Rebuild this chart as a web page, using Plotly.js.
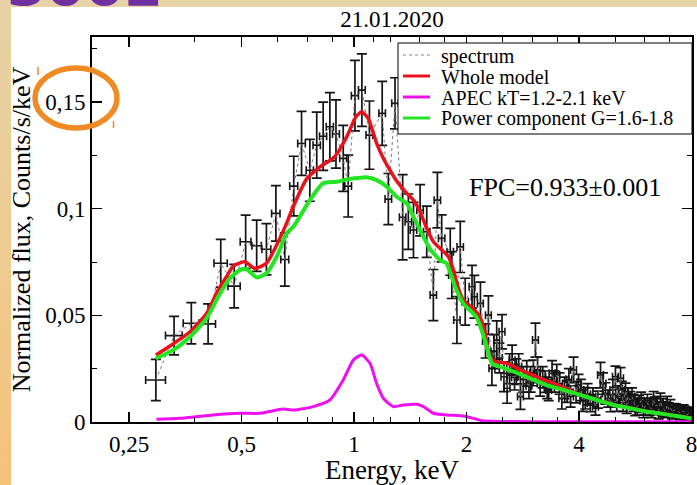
<!DOCTYPE html>
<html>
<head>
<meta charset="utf-8">
<script src="https://cdn.plot.ly/plotly-3.0.1.min.js"></script>
<style>
  html, body { margin: 0; padding: 0; }
  #slide {
    position: relative; width: 697px; height: 485px; overflow: hidden;
    background: linear-gradient(to bottom, #E6D3A6 0%, #EECB90 55%, #F7C17A 100%);
  }
  #panel { position: absolute; left: 11px; top: 7px; width: 686px; height: 478px; background: #ffffff; }
  #chart { position: absolute; left: 0; top: 0; width: 697px; height: 485px; }
  #heading {
    position: absolute; left: 7px; top: -47px; line-height: 1;
    font: bold 56px "DejaVu Sans", sans-serif; color: #7030A0; white-space: nowrap;
  }
</style>
</head>
<body>
<div id="slide">
  <div id="panel"></div>
  <div id="chart"></div>
  <div id="heading">3002</div>
</div>
<script>
// Observed spectrum: energy (keV), normalized flux, flux error, energy half-width
const specE = [
  0.295, 0.330, 0.367, 0.407, 0.440, 0.478, 0.513, 0.549, 0.583, 0.618,
  0.653, 0.690, 0.724, 0.762, 0.795, 0.827, 0.862, 0.895, 0.936, 0.965,
  1.006, 1.050, 1.100, 1.190, 1.236, 1.288, 1.350, 1.398, 1.443, 1.503,
  1.566, 1.631, 1.672, 1.717, 1.810, 1.828, 1.886, 1.925, 1.985,
  2.070, 2.100, 2.180, 2.250, 2.290, 2.340, 2.370, 2.410, 2.450, 2.490,
  2.520, 2.570, 2.610, 2.650, 2.690, 2.720, 2.760, 2.790, 2.840, 2.900,
  2.940, 2.970, 3.020, 3.060, 3.100, 3.150, 3.200, 3.250, 3.290, 3.320,
  3.390, 3.440, 3.490, 3.550, 3.600, 3.660, 3.720, 3.760, 3.800, 3.870,
  3.930, 3.990, 4.050, 4.100, 4.160, 4.220, 4.290, 4.360, 4.430, 4.500,
  4.570, 4.640, 4.710, 4.790, 4.860, 4.930, 5.010, 5.050, 5.100, 5.170,
  5.210, 5.250, 5.330, 5.370, 5.410, 5.490, 5.550, 5.600, 5.660, 5.730,
  5.800, 5.870, 5.950, 6.020, 6.100, 6.180, 6.260, 6.340, 6.400, 6.470,
  6.540, 6.610, 6.680, 6.750, 6.820, 6.890, 6.960, 7.030, 7.100, 7.180,
  7.280, 7.370, 7.460, 7.560, 7.620, 7.670, 7.730, 7.790, 7.850, 7.900, 7.950];
const specF = [
  0.0197, 0.0405, 0.0463, 0.0460, 0.0744, 0.0637, 0.0845, 0.0826, 0.0810, 0.0978,
  0.0762, 0.1106, 0.1306, 0.1180, 0.1298, 0.1340, 0.1384, 0.1350, 0.1236, 0.1106,
  0.1530, 0.1556, 0.1345, 0.1447, 0.1045, 0.1494, 0.0960, 0.0939, 0.0900, 0.0993,
  0.0892, 0.0595, 0.1040, 0.0861, 0.0798, 0.0689, 0.0478, 0.0821, 0.0564,
  0.0634, 0.0587, 0.0556, 0.0380, 0.0501, 0.0252, 0.0330, 0.0384, 0.0300, 0.0423,
  0.0212, 0.0158, 0.0250, 0.0290, 0.0210, 0.0236, 0.0260, 0.0119, 0.0200, 0.0228,
  0.0170, 0.0200, 0.0230, 0.0384, 0.0244, 0.0181, 0.0210, 0.0189, 0.0160, 0.0150,
  0.0228, 0.0190, 0.0220, 0.0180, 0.0111, 0.0160, 0.0142, 0.0200, 0.0120, 0.0244,
  0.0140, 0.0173, 0.0150, 0.0100, 0.0111, 0.0130, 0.0088, 0.0120, 0.0072, 0.0105,
  0.0220, 0.0180, 0.0134, 0.0110, 0.0088, 0.0150, 0.0212, 0.0090, 0.0120, 0.0205,
  0.0150, 0.0090, 0.0142, 0.0080, 0.0120, 0.0103, 0.0120, 0.0090, 0.0070, 0.0072,
  0.0085, 0.0100, 0.0060, 0.0072, 0.0090, 0.0070, 0.0060, 0.0103, 0.0075, 0.0080,
  0.0055, 0.0095, 0.0070, 0.0060, 0.0050, 0.0080, 0.0060, 0.0070, 0.0045, 0.0056,
  0.0055, 0.0050, 0.0040, 0.0048, 0.0050, 0.0045, 0.0038, 0.0033, 0.0040, 0.0030, 0.0028];
const specErrF = [
  0.0097, 0.0090, 0.0097, 0.0094, 0.0112, 0.0102, 0.0125, 0.0120, 0.0120, 0.0130,
  0.0125, 0.0140, 0.0150, 0.0145, 0.0155, 0.0160, 0.0160, 0.0160, 0.0155, 0.0145,
  0.0165, 0.0170, 0.0160, 0.0150, 0.0120, 0.0120, 0.0200, 0.0130, 0.0130, 0.0120,
  0.0120, 0.0120, 0.0130, 0.0110, 0.0110, 0.0110, 0.0110, 0.0120, 0.0110,
  0.0100, 0.0100, 0.0100, 0.0080, 0.0090, 0.0080, 0.0080, 0.0090, 0.0070, 0.0080,
  0.0070, 0.0070, 0.0070, 0.0070, 0.0060, 0.0060, 0.0060, 0.0060, 0.0060, 0.0060,
  0.0060, 0.0060, 0.0060, 0.0080, 0.0060, 0.0060, 0.0050, 0.0050, 0.0050, 0.0050,
  0.0060, 0.0050, 0.0050, 0.0050, 0.0050, 0.0050, 0.0050, 0.0050, 0.0050, 0.0060,
  0.0050, 0.0050, 0.0050, 0.0050, 0.0050, 0.0050, 0.0040, 0.0040, 0.0040, 0.0040,
  0.0060, 0.0050, 0.0050, 0.0040, 0.0040, 0.0050, 0.0050, 0.0040, 0.0050, 0.0050,
  0.0040, 0.0040, 0.0040, 0.0040, 0.0040, 0.0040, 0.0040, 0.0040, 0.0040, 0.0040,
  0.0040, 0.0040, 0.0040, 0.0040, 0.0040, 0.0040, 0.0040, 0.0040, 0.0040, 0.0040,
  0.0040, 0.0040, 0.0040, 0.0035, 0.0030, 0.0040, 0.0030, 0.0035, 0.0030, 0.0030,
  0.0030, 0.0030, 0.0030, 0.0030, 0.0030, 0.0030, 0.0030, 0.0030, 0.0030, 0.0030, 0.0030];
const specErrE = [
  0.018, 0.017, 0.018, 0.019, 0.018, 0.018, 0.017, 0.016, 0.016, 0.016,
  0.016, 0.017, 0.017, 0.017, 0.018, 0.018, 0.019, 0.019, 0.020, 0.020,
  0.022, 0.022, 0.023, 0.024, 0.025, 0.026, 0.027, 0.028, 0.029, 0.030,
  0.031, 0.032, 0.033, 0.034, 0.036, 0.036, 0.037, 0.038, 0.039,
  0.037, 0.038, 0.039, 0.041, 0.041, 0.042, 0.043, 0.043, 0.044, 0.045,
  0.045, 0.046, 0.047, 0.048, 0.048, 0.049, 0.050, 0.050, 0.051, 0.052,
  0.053, 0.053, 0.054, 0.055, 0.056, 0.057, 0.058, 0.059, 0.059, 0.060,
  0.061, 0.062, 0.063, 0.064, 0.065, 0.066, 0.067, 0.068, 0.068, 0.070,
  0.071, 0.072, 0.073, 0.074, 0.075, 0.076, 0.077, 0.078, 0.080, 0.081,
  0.082, 0.084, 0.085, 0.086, 0.087, 0.089, 0.090, 0.091, 0.092, 0.093,
  0.094, 0.095, 0.096, 0.097, 0.097, 0.099, 0.100, 0.101, 0.102, 0.103,
  0.104, 0.106, 0.107, 0.108, 0.110, 0.111, 0.113, 0.114, 0.115, 0.116,
  0.118, 0.119, 0.120, 0.122, 0.123, 0.124, 0.125, 0.127, 0.128, 0.129,
  0.131, 0.133, 0.134, 0.136, 0.137, 0.138, 0.139, 0.140, 0.141, 0.142, 0.143];

// Whole model
const wholeE = [0.295, 0.328, 0.364, 0.403, 0.433, 0.456, 0.475, 0.510, 0.543, 0.583,
  0.621, 0.660, 0.688, 0.747, 0.811, 0.889, 0.956, 1.012, 1.049, 1.092,
  1.150, 1.199, 1.249, 1.301, 1.385, 1.443, 1.503, 1.566, 1.631, 1.700,
  1.790, 1.846, 1.900, 1.960, 2.090, 2.170, 2.240, 2.310, 2.390, 2.570,
  2.790, 3.150, 3.500, 4.030, 4.470, 4.960, 5.500, 6.100, 6.760, 7.500, 8.000];
const wholeF = [0.0314, 0.0366, 0.0423, 0.0509, 0.0619, 0.0681, 0.0731, 0.0751, 0.0720, 0.0744,
  0.0830, 0.0931, 0.1010, 0.1140, 0.1196, 0.1245, 0.1337, 0.1431, 0.1454, 0.1423,
  0.1306, 0.1235, 0.1180, 0.1130, 0.1072, 0.1040, 0.0985, 0.0908, 0.0845, 0.0814,
  0.0775, 0.0712, 0.0630, 0.0572, 0.0530, 0.0494, 0.0423, 0.0306, 0.0283, 0.0275,
  0.0244, 0.0205, 0.0175, 0.0128, 0.0104, 0.0081, 0.0065, 0.0049, 0.0038, 0.0026, 0.0018];

// APEC thermal component
const apecE = [0.296, 0.342, 0.420, 0.495, 0.560, 0.646, 0.688, 0.778, 0.862, 0.936,
  0.996, 1.049, 1.104, 1.150, 1.200, 1.275, 1.356, 1.472, 1.534, 1.630,
  1.770, 1.960, 2.090, 2.200, 2.700, 3.440, 8.000];
const apecF = [0.0013, 0.0017, 0.0033, 0.0041, 0.0041, 0.0061, 0.0056, 0.0072, 0.0103, 0.0197,
  0.0290, 0.0314, 0.0275, 0.0180, 0.0110, 0.0072, 0.0080, 0.0083, 0.0072, 0.0041,
  0.0033, 0.0028, 0.0017, 0.0006, 0.0002, 0.0001, 0.0001];

// Power-law component
const powE = [0.295, 0.328, 0.364, 0.403, 0.433, 0.465, 0.495, 0.516, 0.549, 0.583,
  0.621, 0.660, 0.688, 0.762, 0.827, 0.899, 0.956, 1.038, 1.080, 1.150,
  1.224, 1.300, 1.385, 1.443, 1.534, 1.600, 1.700, 1.770, 1.810, 1.865,
  1.960, 2.130, 2.240, 2.340, 2.460, 2.680, 2.960, 3.280, 3.640, 4.030,
  4.470, 4.960, 5.500, 6.100, 6.760, 7.500, 8.000];
const powF = [0.0298, 0.0337, 0.0400, 0.0486, 0.0587, 0.0673, 0.0712, 0.0716, 0.0678, 0.0697,
  0.0775, 0.0884, 0.0915, 0.1040, 0.1119, 0.1126, 0.1137, 0.1145, 0.1147, 0.1134,
  0.1103, 0.1056, 0.1025, 0.0962, 0.0868, 0.0810, 0.0759, 0.0744, 0.0700, 0.0634,
  0.0556, 0.0490, 0.0384, 0.0275, 0.0259, 0.0236, 0.0205, 0.0173, 0.0150, 0.0127,
  0.0103, 0.0080, 0.0064, 0.0048, 0.0037, 0.0025, 0.0017];

// Series names (legend order) and colours
const seriesNames = ["spectrum", "Whole model", "APEC kT=1.2-2.1 keV", "Power component G=1.6-1.8"];
const seriesColors = ["#777777", "#E8121A", "#EE10EE", "#22E622"];

// Axis ticks
const xTickVals = [0.25, 0.5, 1, 2, 4, 8];
const xTickText = ["0,25", "0,5", "1", "2", "4", "8"];
const xMinorVals = [0.375, 0.625, 0.75, 0.875, 1.125, 1.25, 1.5, 1.75, 2.5, 3, 3.5, 5, 6, 7];
const yTickVals = [0, 0.05, 0.1, 0.15];
const yTickText = ["0", "0,05", "0,1", "0,15"];
const yMinorVals = [0.025, 0.075, 0.125, 0.175];

const serif = "Liberation Serif, Times New Roman, serif";

const traces = [
  {
    name: seriesNames[0], x: specE, y: specF, type: "scatter", mode: "lines",
    line: { color: seriesColors[0], width: 1, dash: "dot" },
    error_y: { type: "data", array: specErrF, visible: true, color: "#141414", thickness: 1.7, width: 5 },
    error_x: { type: "data", array: specErrE, visible: true, color: "#141414", thickness: 1.6, width: 4 }
  },
  {
    name: seriesNames[1], x: wholeE, y: wholeF, type: "scatter", mode: "lines",
    line: { color: seriesColors[1], width: 3.5, shape: "spline", smoothing: 0.6 }
  },
  {
    name: seriesNames[2], x: apecE, y: apecF, type: "scatter", mode: "lines",
    line: { color: seriesColors[2], width: 3, shape: "spline", smoothing: 0.6 }
  },
  {
    name: seriesNames[3], x: powE, y: powF, type: "scatter", mode: "lines",
    line: { color: seriesColors[3], width: 4, shape: "spline", smoothing: 0.6 }
  }
];

// pixel helpers relative to the plot area
const M = { l: 92, r: 5, t: 37, b: 63 };
const PW = 697 - M.l - M.r, PH = 485 - M.t - M.b;
const px = v => (v - M.l) / PW;
const py = v => (485 - M.b - v) / PH;

// legend box drawn as a framed panel with sample lines and labels
const legendRows = [55, 76, 97, 118];
const legendShapes = [{
  type: "rect", xref: "paper", yref: "paper",
  x0: px(398), x1: px(692), y0: py(134), y1: py(43),
  line: { color: "#000", width: 1 }, fillcolor: "#ffffff", layer: "above"
}];
const legendNotes = [];
seriesNames.forEach((name, i) => {
  legendShapes.push({
    type: "line", xref: "paper", yref: "paper",
    x0: px(403), x1: px(430), y0: py(legendRows[i]), y1: py(legendRows[i]),
    line: i === 0 ? { color: "#888", width: 1, dash: "dot" } : { color: seriesColors[i], width: 3 },
    layer: "above"
  });
  legendNotes.push({
    text: name, xref: "paper", yref: "paper", x: px(439), y: py(legendRows[i] + 1),
    xanchor: "left", yanchor: "middle", showarrow: false,
    font: { family: serif, size: 20, color: "#000" }
  });
});

const layout = {
  width: 697, height: 485,
  margin: M,
  paper_bgcolor: "rgba(0,0,0,0)",
  plot_bgcolor: "#ffffff",
  font: { family: serif, color: "#000000" },
  title: {
    text: "21.01.2020", font: { family: serif, size: 23, color: "#000" },
    x: 0.5, xref: "paper", y: 1 - 19 / 485, yanchor: "middle"
  },
  showlegend: false,
  xaxis: {
    type: "log", range: [Math.log10(0.199), Math.log10(8.03)],
    tickmode: "array", tickvals: xTickVals, ticktext: xTickText,
    ticks: "inside", ticklen: 10, tickwidth: 1.5, tickcolor: "#000",
    minor: { tickmode: "array", tickvals: xMinorVals, ticks: "inside", ticklen: 5, tickwidth: 1, tickcolor: "#000" },
    showline: true, linecolor: "#000", linewidth: 2, mirror: "ticks",
    showgrid: false, zeroline: false, ticklabeloverflow: "allow",
    tickfont: { family: serif, size: 23, color: "#000" },
    title: { text: "Energy, keV", font: { family: serif, size: 27, color: "#000" }, standoff: 7 }
  },
  yaxis: {
    range: [0, 0.1805],
    tickmode: "array", tickvals: yTickVals, ticktext: yTickText,
    ticks: "inside", ticklen: 10, tickwidth: 1.5, tickcolor: "#000",
    minor: { tickmode: "array", tickvals: yMinorVals, ticks: "inside", ticklen: 5, tickwidth: 1, tickcolor: "#000" },
    showline: true, linecolor: "#000", linewidth: 2, mirror: "ticks",
    showgrid: false, zeroline: false,
    tickfont: { family: serif, size: 23, color: "#000" },
    title: { text: "Normalized flux, Counts/s/keV", font: { family: serif, size: 26, color: "#000" }, standoff: 7 }
  },
  annotations: [
    {
      text: "FPC=0.933±0.001", xref: "paper", yref: "paper",
      x: px(565), y: py(187), xanchor: "center", yanchor: "middle",
      showarrow: false, font: { family: serif, size: 26, color: "#000" }
    }
  ].concat(legendNotes),
  shapes: legendShapes.concat([
    {
      type: "circle", xref: "paper", yref: "paper",
      x0: px(35), x1: px(117), y0: py(128), y1: py(68),
      line: { color: "#F08A24", width: 5.5 }, layer: "above"
    },
    {
      type: "line", xref: "paper", yref: "paper",
      x0: px(38), x1: px(38), y0: py(75), y1: py(67),
      line: { color: "#F08A24", width: 1.5 }
    },
    {
      type: "line", xref: "paper", yref: "paper",
      x0: px(113.5), x1: px(113.5), y0: py(128), y1: py(121),
      line: { color: "#F08A24", width: 1.5 }
    }
  ])
};

Plotly.newPlot("chart", traces, layout, { displayModeBar: false, staticPlot: true });
</script>
</body>
</html>
